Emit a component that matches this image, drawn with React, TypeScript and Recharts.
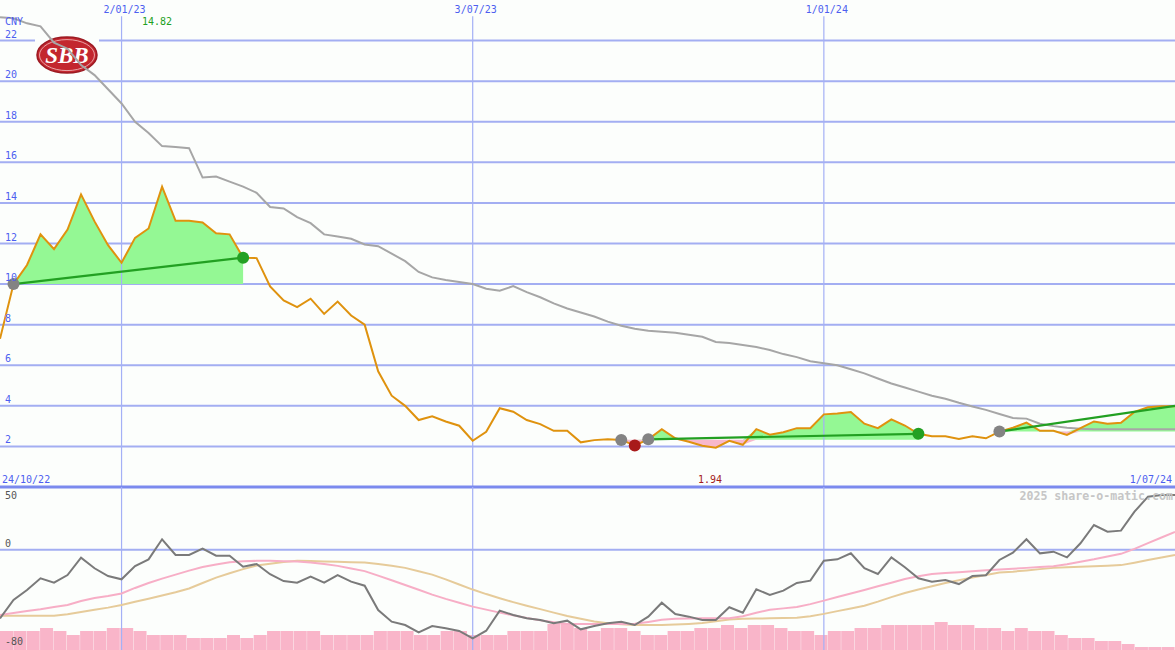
import React from 'react';
import {
  ComposedChart,
  Line,
  Area,
  Bar,
  XAxis,
  YAxis,
  CartesianGrid,
  ReferenceLine,
  ReferenceDot,
  ReferenceArea,
} from 'recharts';

// weekly closes, 31/10/22 .. 1/07/24 (CNY)
const prices = [
  7.3, 10.0, 10.94, 12.45, 11.72, 12.69, 14.42, 13.09, 11.92, 11.05,
  12.28, 12.74, 14.8, 13.12, 13.12, 13.04, 12.5, 12.45, 11.3, 11.28,
  9.88, 9.19, 8.86, 9.28, 8.53, 9.14, 8.45, 8.0, 5.7, 4.5,
  4.0, 3.3, 3.48, 3.23, 3.02, 2.28, 2.72, 3.88, 3.71, 3.3,
  3.1, 2.77, 2.77, 2.2, 2.31, 2.35, 2.32, 2.05, 2.35, 2.85,
  2.4, 2.23, 2.03, 1.94, 2.28, 2.08, 2.85, 2.58, 2.7, 2.9,
  2.9, 3.58, 3.62, 3.7, 3.12, 2.9, 3.33, 3.03, 2.62, 2.5,
  2.5, 2.37, 2.5, 2.4, 2.73, 2.92, 3.17, 2.77, 2.77, 2.57,
  2.9, 3.23, 3.12, 3.17, 3.7, 3.93, 3.98, 3.98,
];

const movingAvg = [
  23.15, 23.1, 22.85, 22.7, 21.9, 21.6, 20.8, 20.3, 19.6, 18.9,
  18.0, 17.45, 16.8, 16.75, 16.7, 15.25, 15.3, 15.05, 14.8, 14.5,
  13.8, 13.73, 13.3, 13.0, 12.45, 12.35, 12.23, 11.95, 11.87, 11.5,
  11.13, 10.6, 10.33, 10.2, 10.1, 10.0, 9.77, 9.67, 9.9, 9.6,
  9.35, 9.05, 8.8, 8.6, 8.4, 8.15, 7.95, 7.8, 7.7, 7.65,
  7.6, 7.5, 7.4, 7.15, 7.1, 7.0, 6.9, 6.75, 6.55, 6.4,
  6.2, 6.1, 6.0, 5.8, 5.6, 5.35, 5.1, 4.9, 4.7, 4.5,
  4.35, 4.15, 3.97, 3.8, 3.6, 3.4, 3.37, 3.12, 3.0, 2.92,
  2.87, 2.85, 2.85, 2.85, 2.85, 2.85, 2.85, 2.85,
];

const momentum = [
  -54.9, -40.1, -32.1, -22.8, -26.3, -20.2, -6.4, -14.8, -21.0, -23.6,
  -13.0, -7.7, 8.3, -4.2, -4.2, 0.8, -4.8, -4.8, -13.6, -11.4,
  -19.6, -25.0, -26.3, -21.5, -26.3, -20.2, -25.5, -28.7, -48.1, -57.4,
  -60.1, -65.9, -60.9, -62.7, -64.8, -70.7, -64.6, -48.6, -52.1, -54.7,
  -56.1, -58.7, -56.6, -63.5, -60.9, -58.7, -57.4, -60.1, -53.4, -42.3,
  -51.3, -53.4, -56.1, -56.1, -45.9, -50.2, -31.6, -36.1, -32.7, -26.5,
  -24.7, -8.8, -7.7, -2.9, -14.8, -19.4, -6.1, -14.0, -22.8, -25.5,
  -24.2, -27.4, -21.0, -20.4, -8.2, -2.4, 8.3, -2.9, -1.6, -6.1,
  5.1, 19.7, 14.4, 15.2, 30.3, 42.3, 43.6, 43.6,
];

const momentumFast = [
  -52.1, -50.5, -48.9, -47.5, -45.7, -44.1, -40.9, -38.5, -36.9, -34.9,
  -30.5, -26.6, -23.1, -19.9, -16.7, -13.8, -11.8, -10.0, -9.3, -8.9,
  -8.9, -9.3, -9.5, -10.3, -11.5, -12.9, -15.0, -17.1, -20.7, -24.4,
  -28.2, -32.0, -35.8, -39.2, -42.3, -45.4, -47.8, -50.2, -52.3, -54.5,
  -56.3, -57.8, -59.3, -59.3, -59.3, -59.3, -59.3, -59.1, -57.6, -55.9,
  -55.1, -54.9, -54.7, -54.7, -54.7, -53.0, -50.3, -47.9, -46.8, -45.7,
  -43.4, -40.6, -37.7, -34.9, -32.1, -29.2, -26.3, -23.4, -21.2, -19.3,
  -18.6, -17.9, -17.1, -16.4, -15.8, -15.2, -14.5, -13.8, -13.2, -11.6,
  -9.6, -7.7, -5.5, -3.3, 0.7, 5.3, 9.7, 14.2,
];

const momentumSlow = [
  -52.6, -52.6, -52.6, -52.6, -52.6, -51.4, -49.7, -47.9, -46.2, -44.1,
  -41.5, -39.1, -36.5, -33.9, -30.9, -26.6, -22.3, -18.8, -15.5, -12.6,
  -11.2, -9.8, -8.9, -9.1, -9.4, -9.6, -10.0, -10.3, -11.5, -12.8,
  -14.5, -17.2, -19.9, -23.7, -27.8, -31.8, -35.4, -38.7, -41.8, -44.7,
  -47.4, -50.2, -52.9, -55.1, -57.3, -58.6, -59.4, -60.1, -60.1, -60.1,
  -59.7, -59.2, -58.5, -57.1, -55.7, -55.1, -54.9, -54.7, -54.5, -54.2,
  -53.0, -51.2, -49.0, -46.9, -44.7, -41.4, -37.8, -34.6, -31.7, -29.2,
  -26.6, -24.3, -22.2, -20.1, -18.2, -17.5, -16.5, -15.5, -14.5, -14.0,
  -13.6, -13.2, -12.8, -12.3, -10.4, -8.3, -6.2, -4.3,
];

const volume = [
  19, 19, 19, 22, 19, 15, 19, 19, 22, 22,
  19, 15, 15, 15, 12, 12, 12, 15, 12, 15,
  19, 19, 19, 19, 15, 15, 15, 15, 19, 19,
  19, 15, 15, 19, 19, 15, 15, 15, 19, 19,
  19, 26, 26, 22, 19, 22, 22, 19, 15, 15,
  19, 19, 22, 22, 25, 22, 25, 25, 22, 19,
  19, 15, 19, 19, 22, 22, 25, 25, 25, 25,
  28, 25, 25, 22, 22, 19, 22, 19, 19, 15,
  12, 12, 9, 9, 6, 3, 3, 3,
];

const dateTicks = [9, 35, 61];
const dateLabels = ['2/01/23', '3/07/23', '1/01/24'];
const priceTicks = [2, 4, 6, 8, 10, 12, 14, 16, 18, 20, 22];
const oscTicks = [50, 0, -80];

// holding periods: shaded against the entry level
const holdStart = [1, 46, 74];
const holdEnd = [18, 68, 87];
const holdBase = [10.0, 2.33, 2.73];

const trendFrom = [[1, 10.0], [48, 2.35], [74, 2.73]];
const trendTo = [[18, 11.3], [68, 2.62], [87, 4.0]];
const buyDots = [[1, 10.0], [46, 2.32], [48, 2.35], [74, 2.73]];
const sellDots = [[18, 11.3], [68, 2.62]];
const stopDots = [[47, 2.05]];

const BLUE_TEXT = '#4d5ff0';
const GRID = '#a3aef2';
const MONO = '"DejaVu Sans Mono", monospace';

const data = prices.map((p, i) => {
  const row: Record<string, number | null> = {
    i,
    price: p,
    avg: movingAvg[i],
    osc: momentum[i],
    oscFast: momentumFast[i],
    oscSlow: momentumSlow[i],
    vol: volume[i],
  };
  holdStart.forEach((s, k) => {
    const inside = i >= s && i <= holdEnd[k];
    row[`gain${k}`] = inside ? Math.max(p, holdBase[k]) : null;
    row[`loss${k}`] = inside ? Math.min(p, holdBase[k]) : null;
  });
  return row;
});

const DateTick = (props: any) => {
  const idx = dateTicks.indexOf(props.payload.value);
  return (
    <text x={props.x + 3} y={13} textAnchor="middle" fill={BLUE_TEXT} fontFamily={MONO} fontSize={10}>
      {dateLabels[idx]}
    </text>
  );
};

const PriceTick = (props: any) => (
  <text x={5} y={props.y - 3} fill={BLUE_TEXT} fontFamily={MONO} fontSize={10}>
    {props.payload.value}
  </text>
);

const OscTick = (props: any) => {
  const v = props.payload.value;
  const y = v === 50 ? props.y + 12 : v === -80 ? props.y - 5 : props.y - 3;
  return (
    <text x={5} y={y} fill="#555" fontFamily={MONO} fontSize={10}>
      {v}
    </text>
  );
};

const Logo = (props: any) => {
  const { x, y, width, height } = props;
  const cx = x + width / 2;
  const cy = y + height / 2;
  return (
    <g>
      <rect x={x} y={y} width={width} height={height} fill="#fcfefc" />
      <ellipse cx={cx} cy={cy} rx={30} ry={18} fill="#c3262e" stroke="#9c1a22" strokeWidth={1.5} />
      <ellipse cx={cx} cy={cy} rx={27.5} ry={15.5} fill="none" stroke="#f3c4c4" strokeWidth={0.8} />
      <text
        x={cx}
        y={cy + 8}
        textAnchor="middle"
        fill="#ffffff"
        fontFamily='"Liberation Serif", serif'
        fontStyle="italic"
        fontWeight="bold"
        fontSize={23}
      >
        SBB
      </text>
    </g>
  );
};

export default function App() {
  return (
    <div style={{ position: 'absolute', left: 0, top: 0, width: 1175, height: 650, background: '#fcfefc', overflow: 'hidden' }}>
      <div style={{ position: 'absolute', left: 0, top: 0 }}>
        <ComposedChart width={1175} height={489} data={data} margin={{ top: -1, right: 0, bottom: 2, left: -1 }}>
          <CartesianGrid horizontal vertical={false} horizontalValues={priceTicks} stroke={GRID} strokeWidth={2} />
          <XAxis
            dataKey="i"
            type="number"
            domain={[0, 87]}
            orientation="top"
            height={1}
            ticks={dateTicks}
            interval={0}
            axisLine={false}
            tickLine={false}
            tick={DateTick}
          />
          <YAxis
            type="number"
            domain={[0, 24]}
            ticks={priceTicks}
            width={1}
            interval={0}
            axisLine={false}
            tickLine={false}
            tick={PriceTick}
          />
          {dateTicks.map((t) => (
            <ReferenceLine key={`v${t}`} segment={[{ x: t, y: 23.2 }, { x: t, y: 0 }]} stroke="#a4b0f6" strokeWidth={1.2} />
          ))}
          <ReferenceArea x1={2.59} x2={7.33} y1={20.2} y2={22.37} shape={Logo} />
          {holdStart.map((_, k) => (
            <Area
              key={`g${k}`}
              dataKey={`gain${k}`}
              baseValue={holdBase[k]}
              stroke="none"
              fill="#94f894"
              fillOpacity={1}
              dot={false}
              activeDot={false}
              isAnimationActive={false}
            />
          ))}
          {holdStart.map((_, k) => (
            <Area
              key={`l${k}`}
              dataKey={`loss${k}`}
              baseValue={holdBase[k]}
              stroke="none"
              fill="#f8b8cc"
              fillOpacity={1}
              dot={false}
              activeDot={false}
              isAnimationActive={false}
            />
          ))}
          <Line dataKey="avg" stroke="#a6a6a6" strokeWidth={2} dot={false} activeDot={false} isAnimationActive={false} />
          <Line dataKey="price" stroke="#df920e" strokeWidth={2} dot={false} activeDot={false} isAnimationActive={false} />
          <ReferenceLine y={0} stroke="#7b8aee" strokeWidth={3} />
          {trendFrom.map((f, k) => (
            <ReferenceLine
              key={`t${k}`}
              segment={[{ x: f[0], y: f[1] }, { x: trendTo[k][0], y: trendTo[k][1] }]}
              stroke="#22a022"
              strokeWidth={2.2}
            />
          ))}
          {buyDots.map((d, k) => (
            <ReferenceDot key={`b${k}`} x={d[0]} y={d[1]} r={6} fill="#838383" stroke="none" />
          ))}
          {sellDots.map((d, k) => (
            <ReferenceDot key={`s${k}`} x={d[0]} y={d[1]} r={6} fill="#23a023" stroke="none" />
          ))}
          {stopDots.map((d, k) => (
            <ReferenceDot key={`r${k}`} x={d[0]} y={d[1]} r={6} fill="#a81a1a" stroke="none" />
          ))}
        </ComposedChart>
      </div>

      <div style={{ position: 'absolute', left: 0, top: 487 }}>
        <ComposedChart
          width={1175}
          height={163}
          data={data}
          margin={{ top: 0, right: 0, bottom: 0, left: -1 }}
          barCategoryGap={0}
          barGap={0}
        >
          <XAxis xAxisId="n" dataKey="i" type="number" domain={[0, 87]} hide />
          <XAxis xAxisId="c" dataKey="i" type="category" hide />
          <YAxis
            yAxisId="o"
            type="number"
            domain={[-80, 50]}
            ticks={oscTicks}
            width={1}
            interval={0}
            axisLine={false}
            tickLine={false}
            tick={OscTick}
          />
          <YAxis yAxisId="v" type="number" domain={[0, 163]} hide />
          {dateTicks.map((t) => (
            <ReferenceLine key={`bv${t}`} x={t} xAxisId="n" yAxisId="o" stroke="#a4b0f6" strokeWidth={1.2} />
          ))}
          <ReferenceLine y={0} xAxisId="n" yAxisId="o" stroke={GRID} strokeWidth={2} />
          <Bar dataKey="vol" xAxisId="c" yAxisId="v" fill="#f9b5c9" isAnimationActive={false} />
          <Line xAxisId="n" yAxisId="o" dataKey="oscSlow" stroke="#e6cb9a" strokeWidth={2} dot={false} activeDot={false} isAnimationActive={false} />
          <Line xAxisId="n" yAxisId="o" dataKey="oscFast" stroke="#f7aec6" strokeWidth={2} dot={false} activeDot={false} isAnimationActive={false} />
          <Line xAxisId="n" yAxisId="o" dataKey="osc" stroke="#7a7a7a" strokeWidth={2} dot={false} activeDot={false} isAnimationActive={false} />
        </ComposedChart>
      </div>

      <svg width={1175} height={650} style={{ position: 'absolute', left: 0, top: 0, pointerEvents: 'none' }}>
        <text x={5} y={25} fill={BLUE_TEXT} fontFamily={MONO} fontSize={10}>CNY</text>
        <text x={142} y={25} fill="#22a022" fontFamily={MONO} fontSize={10}>14.82</text>
        <text x={2} y={483} fill={BLUE_TEXT} fontFamily={MONO} fontSize={10}>24/10/22</text>
        <text x={1172} y={483} textAnchor="end" fill={BLUE_TEXT} fontFamily={MONO} fontSize={10}>1/07/24</text>
        <text x={698} y={483} fill="#a41c1c" fontFamily={MONO} fontSize={10}>1.94</text>
        <text x={1173} y={500} textAnchor="end" fill="#c6c6c6" fontFamily={MONO} fontSize={11.6} fontWeight="bold">
          2025 share-o-matic.com
        </text>
      </svg>
    </div>
  );
}
